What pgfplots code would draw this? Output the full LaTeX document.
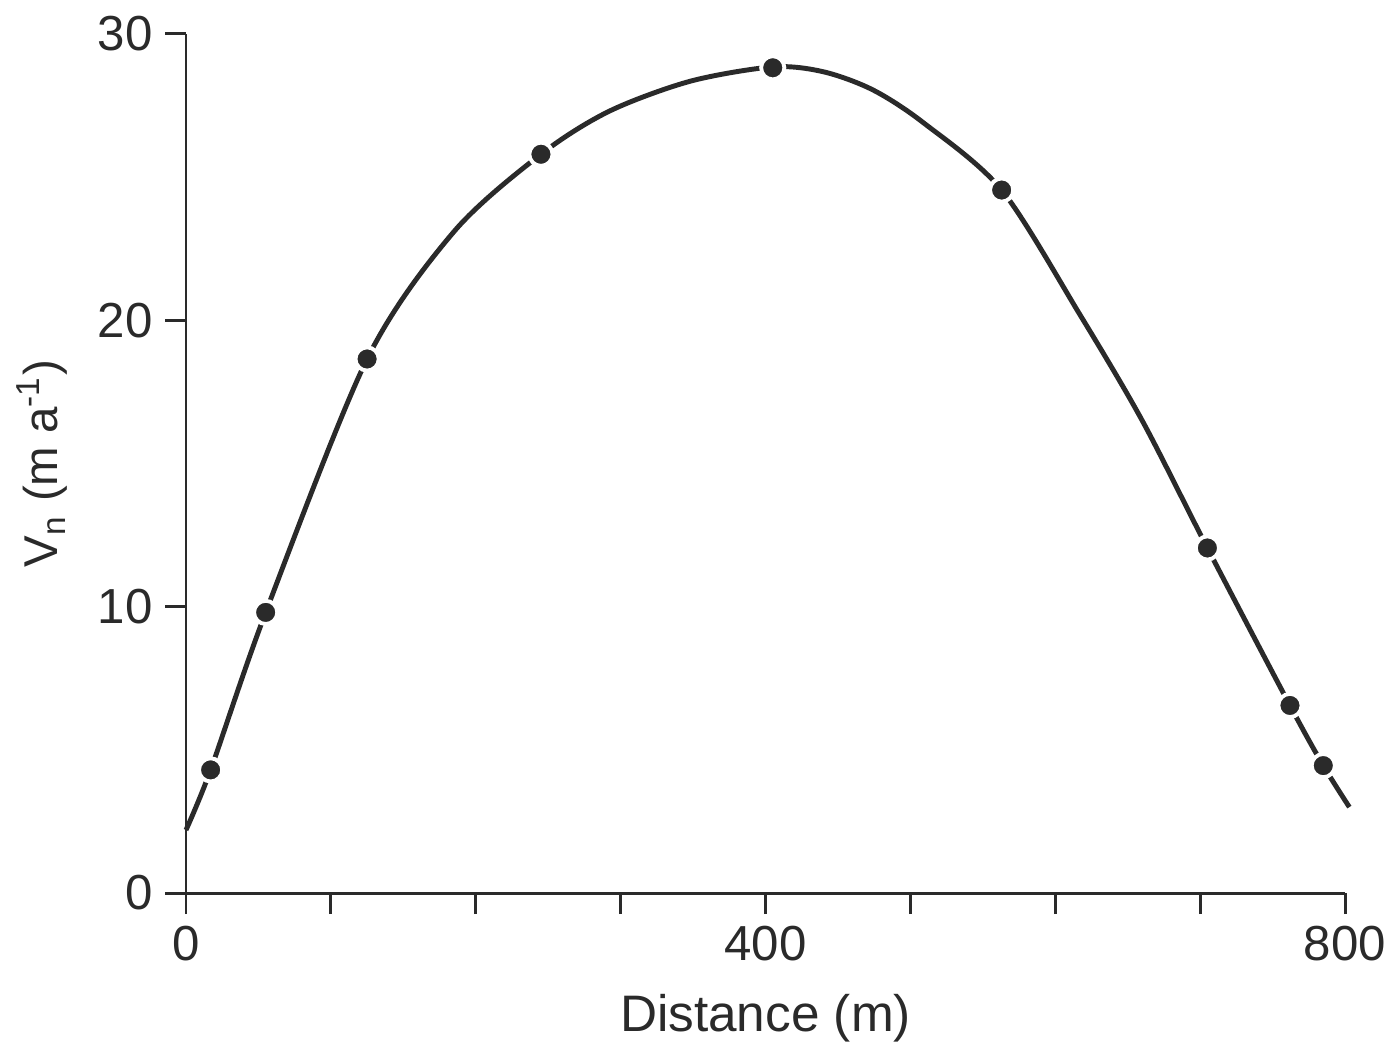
\documentclass[border=0pt]{standalone}
\usepackage{fontspec}
\setmainfont{Liberation Sans}
\usepackage{pgfplots}
\pgfplotsset{compat=1.18}
\definecolor{ink}{HTML}{2A2A2A}
\begin{document}
\begin{tikzpicture}
	\begin{axis}[
		scale only axis,
		width=11.59cm,
		height=8.59cm,
		xmin=0, xmax=800,
		ymin=0, ymax=30,
		clip=false,
		axis x line*=bottom,
		axis y line*=left,
		axis line style={ink, line width=0.85pt},
		tick style={ink, line width=0.85pt},
		tick align=outside,
		major tick length=0.21cm,
		xtick={0,100,...,800},
		xticklabels={0,,,,400,,,,800},
		ytick={0,10,20,30},
		/pgf/number format/assume math mode=true,
		ticklabel style={font=\fontsize{14}{16}\selectfont, text=ink},
		xlabel={Distance (m)},
		ylabel={V\textsubscript{n} (m a\textsuperscript{-1})},
		xlabel style={font=\fontsize{14.6}{17}\selectfont, text=ink,
			at={(axis description cs:0.5,-0.1455)}, anchor=center},
		ylabel style={font=\fontsize{13.5}{16}\selectfont, text=ink,
			at={(axis description cs:-0.124,0.5)}, anchor=center},
		]
		% fitted curve
		\addplot[ink, line width=1.4pt, smooth, tension=0.5] coordinates {
		(0, 2.2) (17, 4.3) (55, 9.8) (125, 18.65) (185, 23.1)
		(245, 25.8) (292, 27.3) (348, 28.35) (405, 28.85) (440, 28.68)
		(474, 28.05) (509, 26.9) (563, 24.55) (617, 20.2) (660, 16.5)
		(705, 12.05) (762, 6.55) (785, 4.45) (803, 3.0) };
		% measured points
		\addplot[only marks, mark=*, mark size=3.3pt,
			mark options={fill=ink, draw=white, line width=1.1pt}] coordinates {
		(17, 4.3) (55, 9.8) (125, 18.65) (245, 25.8) (405, 28.82)
		(563, 24.55) (705, 12.05) (762, 6.55) (785, 4.45) };
		\coordinate (bl) at (rel axis cs:0,0);
		\coordinate (tr) at (rel axis cs:1,1);
	\end{axis}
	\path (bl) ++(-1.86cm,-1.68cm) coordinate (pbl);
	\path (tr) ++(0.55cm,0.34cm) coordinate (ptr);
	\path (pbl) rectangle (ptr);
\end{tikzpicture}
\end{document}
